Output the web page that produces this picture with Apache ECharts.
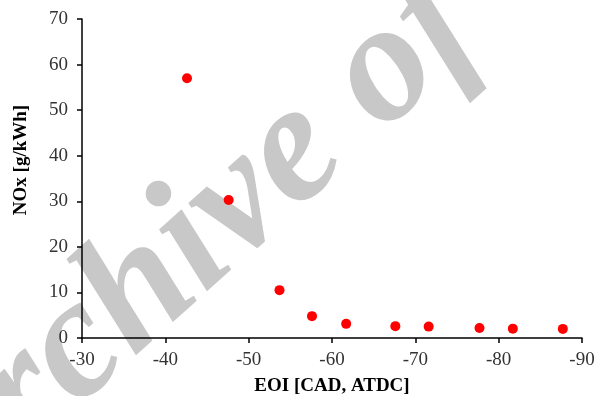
<!DOCTYPE html>
<html>
<head>
<meta charset="utf-8">
<script src="https://cdn.jsdelivr.net/npm/echarts@6/dist/echarts.min.js"></script>
<style>
  html, body { margin: 0; padding: 0; background: #fff; }
  #chart { width: 594px; height: 396px; }
</style>
</head>
<body>
<div id="chart"></div>
<script>
const eoi = [-42.6, -47.6, -53.7, -57.6, -61.7, -67.6, -71.6, -77.7, -81.7, -87.7];
const nox = [57.0, 30.3, 10.5, 4.8, 3.1, 2.6, 2.5, 2.2, 2.05, 2.0];
const xTitle = 'EOI [CAD, ATDC]';
const yTitle = 'NOx [g/kWh]';
const watermark = ['Archive of', 'SID'];

const chart = echarts.init(document.getElementById('chart'));

const font = '"Liberation Serif", "Times New Roman", serif';
const wmFont = 'italic bold 170px ' + font;

const option = {
    backgroundColor: '#fff',
    animation: false,
    grid: { left: 82, right: 12, top: 19, bottom: 58, containLabel: false, outerBoundsMode: 'none' },
    graphic: [
        {
            // faint diagonal watermark behind the plot
            type: 'group',
            z: -10,
            x: 306,
            y: 143,
            rotation: 42 * Math.PI / 180,
            children: [
                {
                    type: 'text',
                    x: 205,
                    y: 0,
                    style: { text: watermark[0], font: wmFont, fill: '#c8c8c8', align: 'right', verticalAlign: 'middle' }
                },
                {
                    type: 'text',
                    x: 320,
                    y: 0,
                    style: { text: watermark[1], font: wmFont, fill: '#c8c8c8', align: 'left', verticalAlign: 'middle' }
                }
            ]
        }
    ],
    xAxis: {
        type: 'value',
        min: -90,
        max: -30,
        interval: 10,
        inverse: true,
        name: xTitle,
        nameLocation: 'middle',
        nameGap: 39,
        nameTextStyle: { color: '#000', fontFamily: font, fontSize: 19, fontWeight: 'bold' },
        splitLine: { show: false },
        axisLine: { show: true, onZero: false, lineStyle: { color: '#000', width: 1.5 } },
        axisTick: { show: true, inside: false, length: 5, lineStyle: { color: '#000', width: 1.5 } },
        axisLabel: { color: '#333', fontFamily: font, fontSize: 19, margin: 13 }
    },
    yAxis: {
        type: 'value',
        min: 0,
        max: 70,
        interval: 10,
        name: yTitle,
        nameLocation: 'middle',
        nameGap: 51,
        nameTextStyle: { color: '#000', fontFamily: font, fontSize: 19, fontWeight: 'bold', padding: [0, 0, 0, 37] },
        splitLine: { show: false },
        axisLine: { show: true, lineStyle: { color: '#000', width: 1.5 } },
        axisTick: { show: true, inside: false, length: 5, lineStyle: { color: '#000', width: 1.5 } },
        axisLabel: { color: '#333', fontFamily: font, fontSize: 19, margin: 14 }
    },
    series: [
        {
            type: 'scatter',
            data: eoi.map((x, i) => [x, nox[i]]),
            symbol: 'circle',
            symbolSize: 10,
            itemStyle: { color: '#ff0000', opacity: 1 }
        }
    ]
};

chart.setOption(option);
window.addEventListener('resize', () => chart.resize());
</script>
</body>
</html>
